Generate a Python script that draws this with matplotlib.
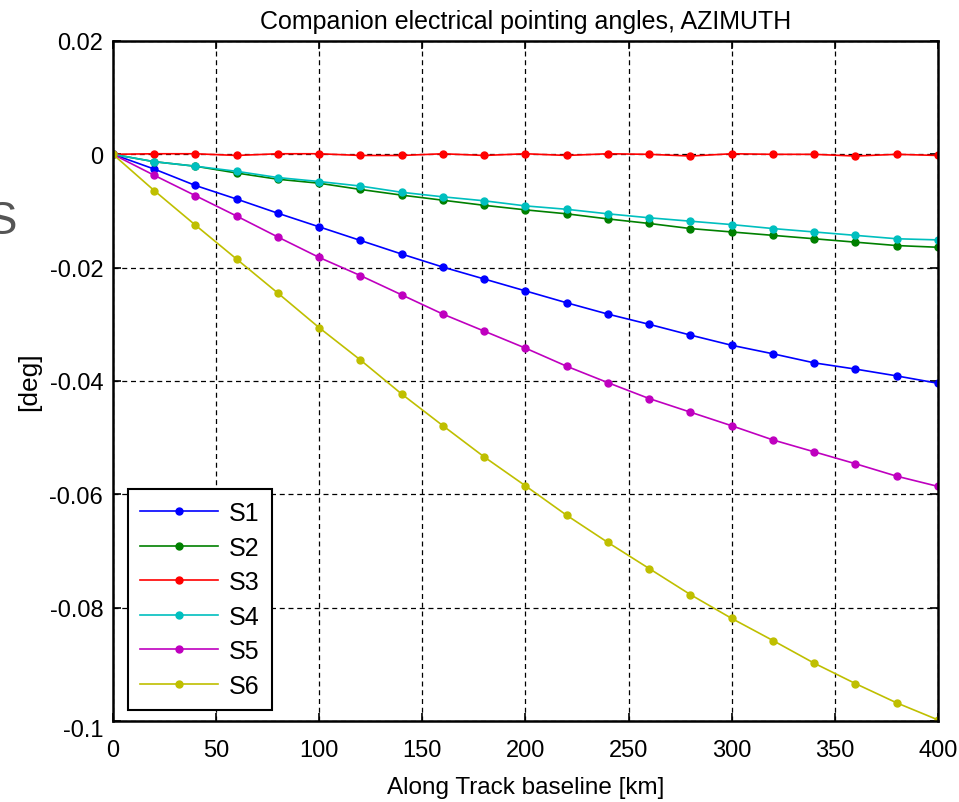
import numpy as np
import matplotlib.pyplot as plt
from matplotlib.transforms import ScaledTranslation

plt.rcParams['font.family'] = ['Liberation Sans', 'DejaVu Sans']

# along-track baseline [km]
baseline = list(range(0, 401, 20))

# pointing angle [deg] per companion
s1 = [0, -0.0026, -0.0055, -0.0079, -0.0104, -0.0128, -0.0152, -0.0176, -0.0199, -0.0220,
      -0.0241, -0.0262, -0.0282, -0.0300, -0.0319, -0.0337, -0.0352, -0.0368, -0.0379, -0.0391, -0.0404]
s2 = [0, -0.0013, -0.0021, -0.0033, -0.0044, -0.0051, -0.0062, -0.0072, -0.0081, -0.0090,
      -0.0098, -0.0105, -0.0114, -0.0122, -0.0131, -0.0137, -0.0143, -0.0149, -0.0155, -0.0161, -0.0164]
s3 = [0, 0.0001, 0.0001, -0.0002, 0.0001, 0.0001, -0.0002, -0.0002, 0.0001, -0.0002,
      0.0001, -0.0002, 0.0001, 0.0000, -0.0003, 0.0001, 0.0000, 0.0000, -0.0003, 0.0000, -0.0002]
s4 = [0, -0.0013, -0.0021, -0.0030, -0.0041, -0.0048, -0.0056, -0.0067, -0.0075, -0.0082,
      -0.0091, -0.0097, -0.0105, -0.0112, -0.0118, -0.0124, -0.0131, -0.0137, -0.0143, -0.0149, -0.0151]
s5 = [0, -0.0037, -0.0073, -0.0109, -0.0146, -0.0182, -0.0214, -0.0248, -0.0282, -0.0312,
      -0.0342, -0.0374, -0.0403, -0.0431, -0.0455, -0.0479, -0.0504, -0.0525, -0.0546, -0.0568, -0.0586]
s6 = [0, -0.0064, -0.0125, -0.0185, -0.0245, -0.0306, -0.0363, -0.0423, -0.0479, -0.0534,
      -0.0585, -0.0637, -0.0685, -0.0731, -0.0777, -0.0819, -0.0858, -0.0898, -0.0934, -0.0968, -0.0998]

series = [("S1", s1, "#0000ff"), ("S2", s2, "#008000"), ("S3", s3, "#ff0000"),
          ("S4", s4, "#00bfbf"), ("S5", s5, "#bf00bf"), ("S6", s6, "#bfbf00")]

fig = plt.figure(figsize=(9.59, 8.03), dpi=100)
ax = fig.add_axes([0.1178, 0.1009, 0.8602, 0.8468])

for name, vals, col in series:
    ax.plot(baseline, vals, color=col, linewidth=1.2, marker="o", markersize=5, label=name)

ax.set_xlim(0, 400)
ax.set_ylim(-0.1, 0.02)
ax.set_xticks(np.arange(0, 401, 50))
ax.set_yticks([-0.1, -0.08, -0.06, -0.04, -0.02, 0, 0.02])
ax.set_yticklabels(["-0.1", "-0.08", "-0.06", "-0.04", "-0.02", "0", "0.02"])

ax.grid(True, color="black", linestyle=(0, (4, 3)), linewidth=0.9)
ax.tick_params(direction="in", top=True, right=True, length=6, width=1.2, labelsize=17)
ax.tick_params(axis="x", pad=13)
ax.tick_params(axis="y", pad=7)
for sp in ax.spines.values():
    sp.set_linewidth(1.8)

# bottom y label sits a bit below the axis line, as in the original
lab = ax.get_yticklabels()[0]
lab.set_transform(lab.get_transform() + ScaledTranslation(0, -7 / 100, fig.dpi_scale_trans))

ax.set_title("Companion electrical pointing angles, AZIMUTH", fontsize=18, pad=9)
ax.set_xlabel("Along Track baseline [km]", fontsize=17.5, labelpad=11)
ax.set_ylabel("[deg]", fontsize=19, labelpad=6)

leg = ax.legend(loc="lower left", bbox_to_anchor=(0.018, 0.016), borderaxespad=0, fontsize=18,
                fancybox=False, framealpha=1, edgecolor="black", handlelength=3.1,
                handletextpad=0.45, borderpad=0.5, labelspacing=0.42)
leg.get_frame().set_linewidth(1.5)

# stray glyph at the left edge of the picture
fig.text(17 / 959, 1 - 222 / 803, "S", fontsize=33, color="#555555", ha="right", va="center")

fig.savefig("out.png", dpi=100)
